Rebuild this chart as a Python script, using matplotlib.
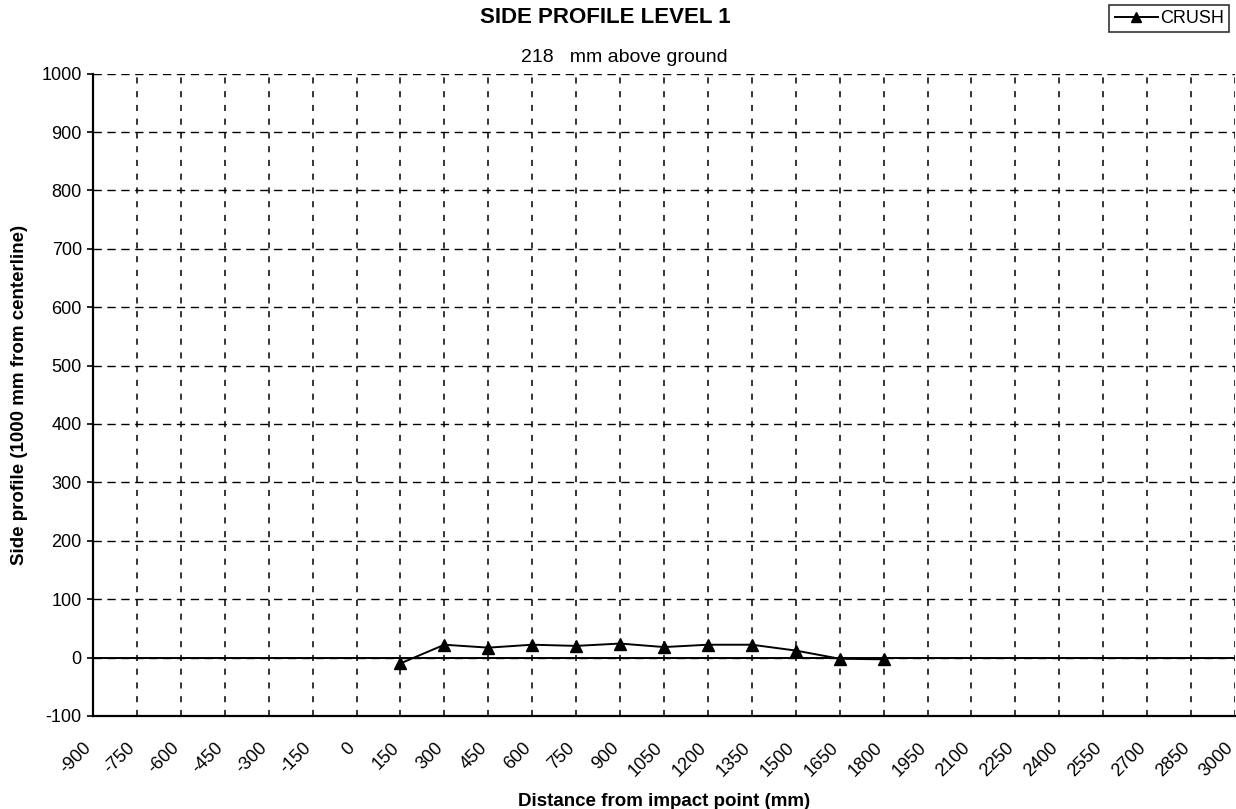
import matplotlib
matplotlib.use("Agg")
import matplotlib.pyplot as plt
import matplotlib.transforms as mtransforms

# data
distance_mm = [150, 300, 450, 600, 750, 900, 1050, 1200, 1350, 1500, 1650, 1800]
crush = [-10, 22, 17, 22, 20, 24, 18, 22, 22, 12, -2, -3]

x_ticks = list(range(-900, 3001, 150))
y_ticks = list(range(-100, 1001, 100))

plt.rcParams["font.family"] = ["Liberation Sans", "DejaVu Sans"]
plt.rcParams["axes.unicode_minus"] = False

fig = plt.figure(figsize=(12.36, 8.09), dpi=100)
ax = fig.add_axes([0.0752, 0.115, 0.924, 0.794])

ax.set_xlim(-900, 3000)
ax.set_ylim(-100, 1000)
ax.set_xticks(x_ticks)
ax.set_yticks(y_ticks)

ax.grid(True, axis="x", color="black", linestyle=(0, (4, 5)), linewidth=1.1)
ax.grid(True, axis="y", color="black", linestyle=(0, (6, 4)), linewidth=1.0)
ax.axhline(0, color="black", linewidth=1.4, zorder=2)

ax.plot(distance_mm, crush, color="black", linewidth=1.4, marker="^",
        markersize=9, label="CRUSH", zorder=3)

for side in ["top", "right"]:
    ax.spines[side].set_visible(False)
ax.spines["left"].set_linewidth(1.6)
ax.spines["bottom"].set_linewidth(1.6)

ax.tick_params(axis="y", length=4, width=1.2, labelsize=13, pad=4)
ax.tick_params(axis="x", length=0, labelsize=13, pad=17)
# labels sit a little left of their gridlines, as in the original
shift = mtransforms.ScaledTranslation(-10 / 100, 0, fig.dpi_scale_trans)
for lbl in ax.get_xticklabels():
    lbl.set_rotation(45)
    lbl.set_ha("right")
    lbl.set_rotation_mode("anchor")
    lbl.set_transform(lbl.get_transform() + shift)

ax.set_xlabel("Distance from impact point (mm)", fontsize=13.5, fontweight="bold", labelpad=9)
ax.set_ylabel("Side profile (1000 mm from centerline)", fontsize=13.5, fontweight="bold", labelpad=10)

fig.text(0.49, 0.978, "SIDE PROFILE LEVEL 1", ha="center", va="center",
         fontsize=16, fontweight="bold")
fig.text(0.505, 0.929, "218   mm above ground", ha="center", va="center", fontsize=14)

leg = ax.legend(loc="upper right", bbox_to_anchor=(0.9947, 1.1075), borderaxespad=0,
                frameon=True, fancybox=False, edgecolor="black", fontsize=13,
                handlelength=2.4, handletextpad=0.1, borderpad=0.3, markerscale=0.8)
leg.get_frame().set_linewidth(1.2)

fig.savefig("out.png", dpi=100)
